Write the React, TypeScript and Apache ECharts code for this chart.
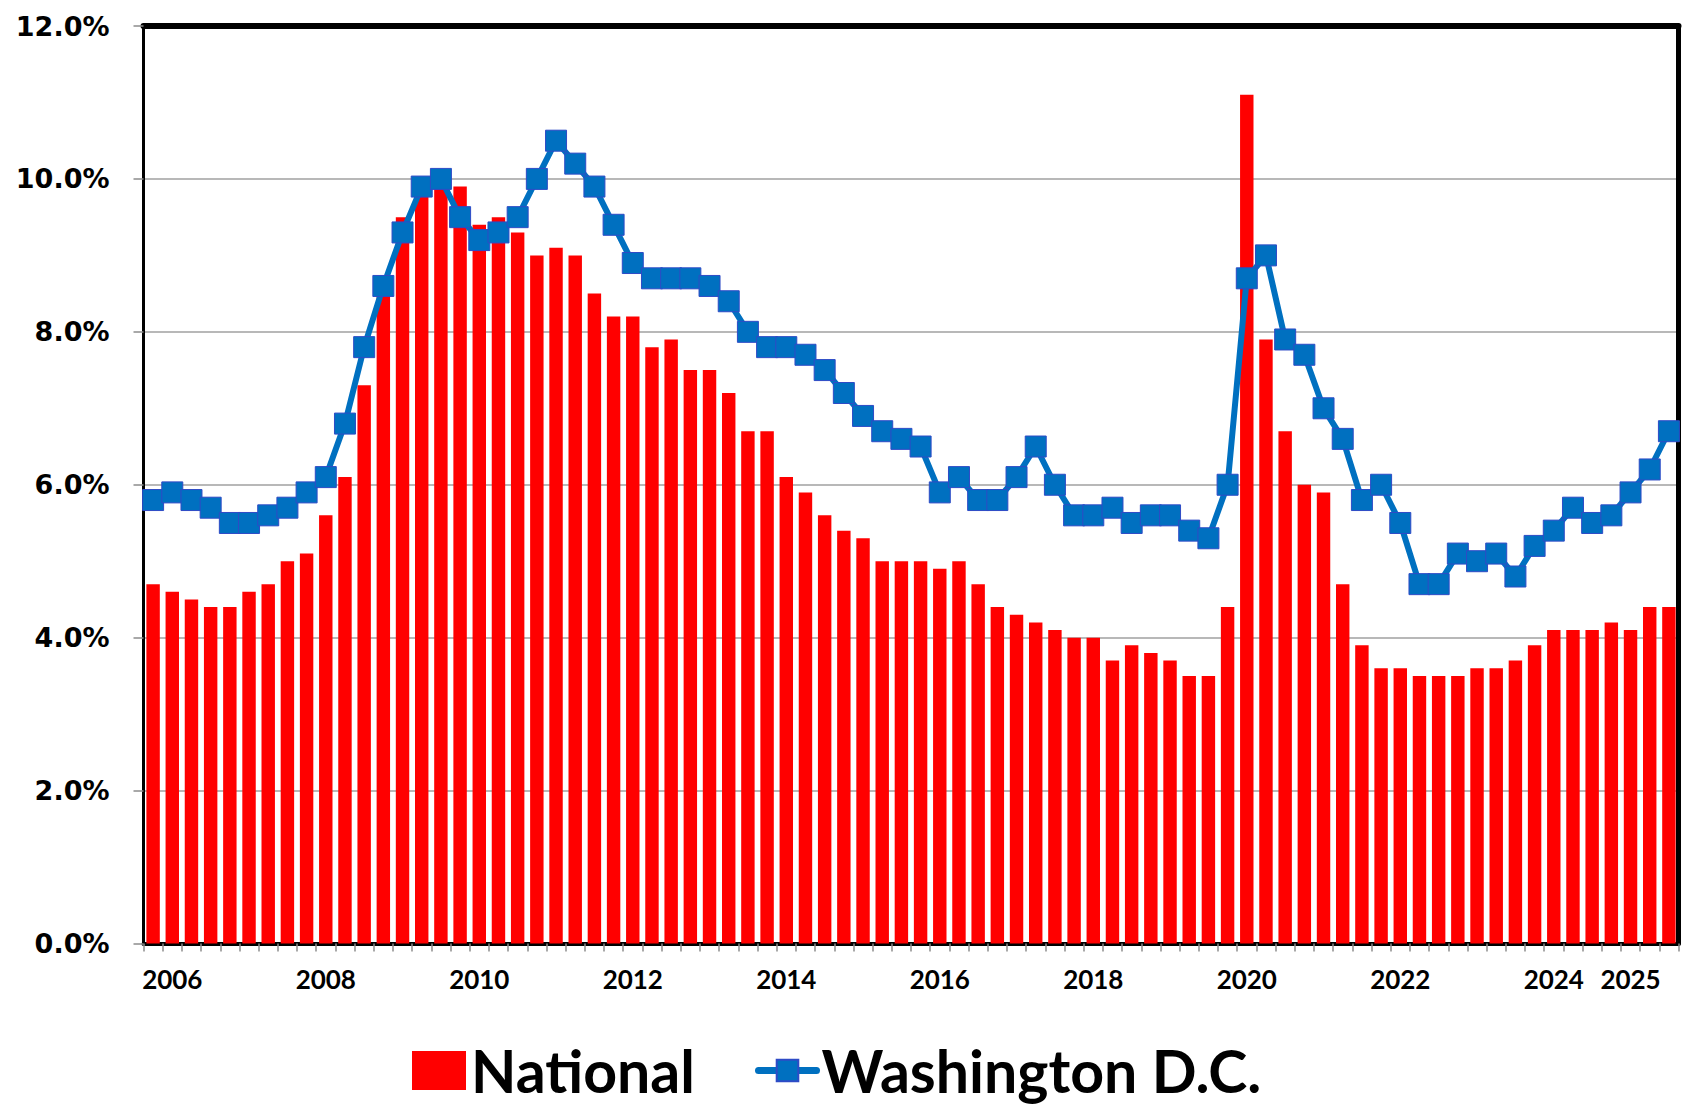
import React, { useEffect, useRef } from "react";
import * as echarts from "echarts";

// Quarterly categories, 2006 Q1 .. 2025 Q4
const years: number[] = [];
for (let y = 2006; y <= 2025; y++) years.push(y);
const quarterNames = ["Q1", "Q2", "Q3", "Q4"];
const categories: string[] = [];
years.forEach((y) => quarterNames.forEach((q) => categories.push(`${y} ${q}`)));

// Year labels shown on the x axis (placed on the Q2 category of each year)
const labeledYears = ["2006", "2008", "2010", "2012", "2014", "2016", "2018", "2020", "2022", "2024", "2025"];
const labelQuarter = "Q2";

// Unemployment rate, %
const national = [
  4.7, 4.6, 4.5, 4.4, 4.4, 4.6, 4.7, 5.0, 5.1, 5.6, 6.1, 7.3,
  8.7, 9.5, 9.8, 9.9, 9.9, 9.4, 9.5, 9.3, 9.0, 9.1, 9.0, 8.5,
  8.2, 8.2, 7.8, 7.9, 7.5, 7.5, 7.2, 6.7, 6.7, 6.1, 5.9, 5.6,
  5.4, 5.3, 5.0, 5.0, 5.0, 4.9, 5.0, 4.7, 4.4, 4.3, 4.2, 4.1,
  4.0, 4.0, 3.7, 3.9, 3.8, 3.7, 3.5, 3.5, 4.4, 11.1, 7.9, 6.7,
  6.0, 5.9, 4.7, 3.9, 3.6, 3.6, 3.5, 3.5, 3.5, 3.6, 3.6, 3.7,
  3.9, 4.1, 4.1, 4.1, 4.2, 4.1, 4.4, 4.4,
];
const washingtonDC = [
  5.8, 5.9, 5.8, 5.7, 5.5, 5.5, 5.6, 5.7, 5.9, 6.1, 6.8, 7.8,
  8.6, 9.3, 9.9, 10.0, 9.5, 9.2, 9.3, 9.5, 10.0, 10.5, 10.2, 9.9,
  9.4, 8.9, 8.7, 8.7, 8.7, 8.6, 8.4, 8.0, 7.8, 7.8, 7.7, 7.5,
  7.2, 6.9, 6.7, 6.6, 6.5, 5.9, 6.1, 5.8, 5.8, 6.1, 6.5, 6.0,
  5.6, 5.6, 5.7, 5.5, 5.6, 5.6, 5.4, 5.3, 6.0, 8.7, 9.0, 7.9,
  7.7, 7.0, 6.6, 5.8, 6.0, 5.5, 4.7, 4.7, 5.1, 5.0, 5.1, 4.8,
  5.2, 5.4, 5.7, 5.5, 5.6, 5.9, 6.2, 6.7,
];

const yMin = 0;
const yMax = 12;
const yStep = 2;

export default function App() {
  const ref = useRef<HTMLDivElement>(null);
  useEffect(() => {
    document.body.style.margin = "0";
    const chart = echarts.init(ref.current as HTMLDivElement, null, { renderer: "svg" });
    const legendText = { fontFamily: "Lato", fontWeight: "bold", fontSize: 59, color: "#000" };
    chart.setOption({
      animation: false,
      backgroundColor: "#ffffff",
      grid: { left: 143.5, right: 12.5, top: 26, bottom: 166.5, containLabel: false },
      legend: [
        {
          data: ["National"],
          left: 412,
          top: 1041,
          padding: 0,
          icon: "rect",
          itemWidth: 54,
          itemHeight: 39,
          itemGap: 5,
          textStyle: legendText,
        },
        {
          data: ["Washington D.C."],
          left: 755,
          top: 1041,
          padding: 0,
          itemWidth: 58,
          itemHeight: 27,
          lineStyle: { width: 7, color: "#0070c0", cap: "round" },
          textStyle: legendText,
        },
      ],
      xAxis: [
        {
          type: "category",
          data: categories,
          position: "bottom",
          axisLine: { onZero: false, lineStyle: { color: "#000", width: 4 } },
          axisTick: { show: true, interval: 0, length: 8, lineStyle: { color: "#8c8c8c", width: 1.5 } },
          axisLabel: {
            interval: 0,
            margin: 22,
            fontFamily: "Lato",
            fontWeight: "bold",
            fontSize: 26,
            color: "#000",
            formatter: (v: string) => {
              const [y, q] = v.split(" ");
              return q === labelQuarter && labeledYears.includes(y) ? y : "";
            },
          },
          splitLine: { show: false },
        },
        {
          type: "category",
          data: categories,
          position: "top",
          axisLine: { onZero: false, lineStyle: { color: "#000", width: 6 } },
          axisTick: { show: false },
          axisLabel: { show: false },
          splitLine: { show: false },
        },
      ],
      yAxis: [
        {
          type: "value",
          min: yMin,
          max: yMax,
          interval: yStep,
          position: "left",
          axisLine: { show: true, onZero: false, lineStyle: { color: "#000", width: 3 } },
          axisTick: { show: true, length: 10, lineStyle: { color: "#8c8c8c", width: 1.5 } },
          axisLabel: {
            margin: 34,
            fontFamily: "DejaVu Sans",
            fontWeight: "bold",
            fontSize: 27,
            color: "#000",
            formatter: (v: number) => v.toFixed(1) + "%",
          },
          splitLine: { show: true, lineStyle: { color: "#a0a0a0", width: 1.5 } },
        },
        {
          type: "value",
          min: yMin,
          max: yMax,
          interval: yStep,
          position: "right",
          axisLine: { show: true, onZero: false, lineStyle: { color: "#000", width: 5 } },
          axisTick: { show: false },
          axisLabel: { show: false },
          splitLine: { show: false },
        },
      ],
      series: [
        {
          name: "National",
          type: "bar",
          data: national,
          barCategoryGap: "30%",
          itemStyle: { color: "#ff0000" },
          z: 2,
        },
        {
          name: "Washington D.C.",
          type: "line",
          data: washingtonDC,
          symbol: "rect",
          symbolSize: 21,
          lineStyle: { color: "#0070c0", width: 6 },
          itemStyle: { color: "#0070c0", borderColor: "#2e4bc6", borderWidth: 1 },
          z: 3,
        },
      ],
    });
    return () => chart.dispose();
  }, []);
  return <div ref={ref} style={{ width: 1691, height: 1110, background: "#fff" }} />;
}
